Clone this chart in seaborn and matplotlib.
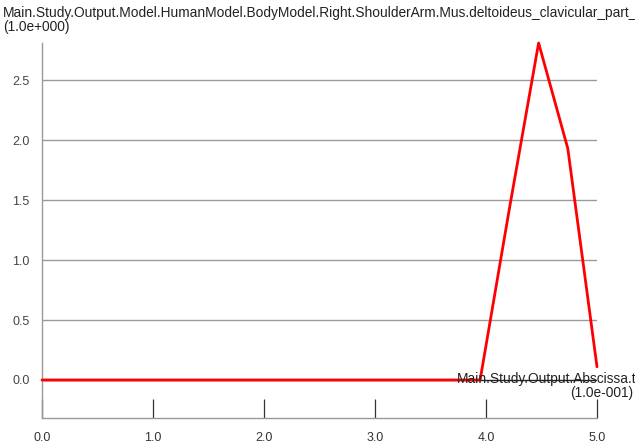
import matplotlib
matplotlib.use("Agg")
import matplotlib.pyplot as plt
import seaborn as sns
import numpy as np
import pandas as pd

# Abscissa samples (x 1.0e-001) and muscle output values (x 1.0e+000)
abscissa = [0.0, 0.263, 0.526, 0.789, 1.053, 1.316, 1.579, 1.842, 2.105, 2.368,
            2.632, 2.895, 3.158, 3.421, 3.684, 3.947, 4.211, 4.474, 4.737, 5.0]
values = [0.0, 0.0, 0.0, 0.0, 0.0, 0.0, 0.0, 0.0, 0.0, 0.0,
          0.0, 0.0, 0.0, 0.0, 0.0, 0.0, 1.43, 2.81, 1.93, 0.11]
x_ticks = [0.0, 1.0, 2.0, 3.0, 4.0, 5.0]
x_tick_labels = ["0.0", "1.0", "2.0", "3.0", "4.0", "5.0"]
y_ticks = [0.0, 0.5, 1.0, 1.5, 2.0, 2.5]
y_tick_labels = ["0.0", "0.5", "1.0", "1.5", "2.0", "2.5"]

y_title = "Main.Study.Output.Model.HumanModel.BodyModel.Right.ShoulderArm.Mus.deltoideus_clavicular_part_1.Fm"
y_scale = "(1.0e+000)"
x_title = "Main.Study.Output.Abscissa.t"
x_scale = "(1.0e-001)"

sns.set_style("white")
plt.rcParams["font.family"] = ["Liberation Sans", "DejaVu Sans"]

W, H = 635, 448
fig = plt.figure(figsize=(W / 100, H / 100), dpi=100)
ax = fig.add_axes([42 / W, 1 - 418 / H, (597 - 42) / W, (418 - 43) / H])

df = pd.DataFrame({"t": abscissa, "v": values})

# zero reference line and horizontal grid
ax.axhline(0, color="#222222", lw=1.0, zorder=1)
for yv in y_ticks[1:]:
    ax.axhline(yv, color="#9a9a9a", lw=1.0, zorder=0)

sns.lineplot(data=df, x="t", y="v", color="#ff0000", lw=2.0, ax=ax, zorder=3,
             clip_on=False)

ax.set_xlim(0, 5.0)
ax.set_ylim(-0.317, max(values))

ax.set_xticks(x_ticks)
ax.set_xticklabels(x_tick_labels)
ax.set_yticks(y_ticks)
ax.set_yticklabels(y_tick_labels)
ax.tick_params(axis="x", bottom=True, direction="in", length=13.5, width=0.9,
               color="#333333", pad=10, labelsize=9, labelcolor="#333333")
ax.tick_params(axis="y", left=False, length=0, pad=9, labelsize=9,
               labelcolor="#444444")
ax.set_xlabel("")
ax.set_ylabel("")

for side in ["top", "right"]:
    ax.spines[side].set_visible(False)
for side in ["left", "bottom"]:
    ax.spines[side].set_color("#999999")
    ax.spines[side].set_linewidth(1.0)

fs = 9.9
fig.text(3 / W, 1 - 13 / H, y_title, ha="left", va="center", fontsize=fs,
         color="#222222")
fig.text(3 / W, 1 - 27 / H, y_scale, ha="left", va="center", fontsize=fs,
         color="#222222")
fig.text(636 / W, 1 - 379 / H, x_title, ha="right", va="center", fontsize=fs,
         color="#222222")
fig.text(633 / W, 1 - 393 / H, x_scale, ha="right", va="center", fontsize=fs,
         color="#222222")

fig.savefig("out.png", dpi=100)
